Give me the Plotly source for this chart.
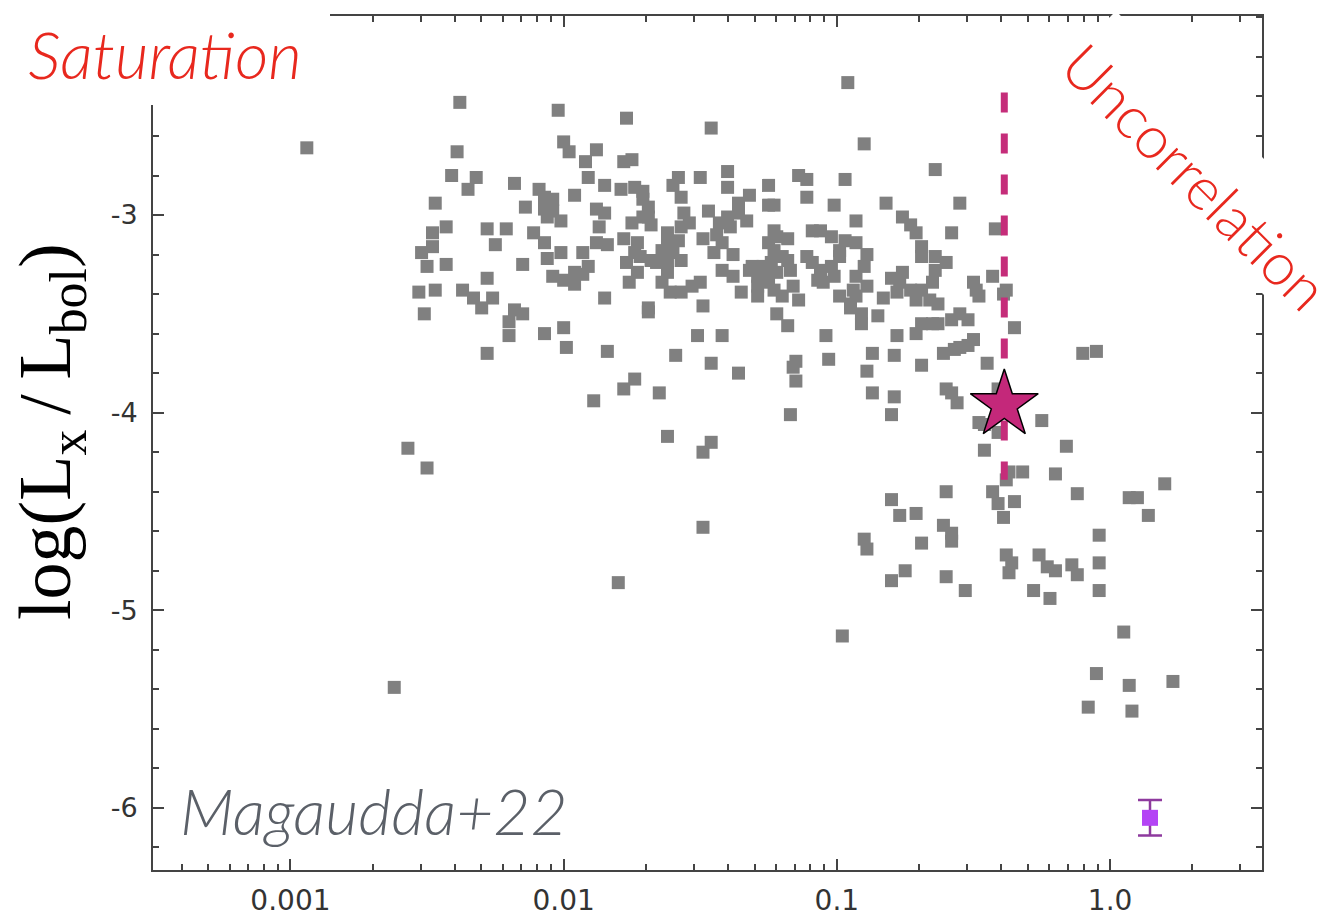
import plotly.graph_objects as go

# Rossby number (log10) and log(Lx/Lbol) for the stellar sample, in three groups
log_ro_sat_left = [
    -2.38, -2.94, -2.02, -2.39, -2.00, -1.98, -1.88, -1.92, -2.41, -2.32,
    -2.35, -2.18, -1.91, -1.96, -2.09, -2.07, -2.04, -2.07, -2.04, -2.01,
    -2.06, -2.14, -2.47, -1.88, -1.87, -2.43, -2.48, -2.28, -2.21, -2.25,
    -2.11, -2.07, -2.48, -2.52, -2.50, -2.43, -2.15, -2.06, -2.01, -1.93,
    -1.88, -1.91, -2.04, -2.00, -1.96, -1.96, -1.93, -2.53, -2.47, -2.28,
    -2.37, -2.33, -2.30, -2.26, -2.51, -2.18, -2.15, -2.20, -2.20, -2.07,
    -2.00, -1.99, -2.28, -1.89, -2.57, -2.50, -2.62,
]
log_lx_sat_left = [
    -2.43, -2.66, -2.47, -2.68, -2.63, -2.68, -2.67, -2.73, -2.80, -2.81,
    -2.87, -2.84, -2.81, -2.90, -2.87, -2.91, -2.92, -2.97, -2.98, -3.03,
    -3.01, -2.96, -2.94, -2.97, -3.06, -3.06, -3.09, -3.07, -3.07, -3.15,
    -3.09, -3.14, -3.16, -3.19, -3.26, -3.25, -3.25, -3.22, -3.19, -3.19,
    -3.14, -3.26, -3.31, -3.33, -3.29, -3.35, -3.30, -3.39, -3.38, -3.32,
    -3.38, -3.42, -3.47, -3.42, -3.50, -3.48, -3.50, -3.54, -3.61, -3.60,
    -3.57, -3.67, -3.70, -3.94, -4.18, -4.28, -5.39,
]

log_ro_sat_mid = [
    -0.96, -1.77, -1.46, -0.90, -1.78, -1.75, -0.64, -1.85, -1.50, -1.58,
    -1.60, -1.57, -1.40, -1.40, -1.25, -1.14, -1.11, -1.11, -0.97, -0.82,
    -1.01, -1.25, -1.23, -1.32, -1.79, -1.74, -1.71, -1.71, -1.69, -1.69,
    -1.71, -1.85, -1.47, -1.36, -1.36, -1.40, -1.33, -1.39, -1.43, -1.56,
    -1.54, -1.57, -0.93, -0.76, -0.73, -0.71, -0.69, -0.69, -1.75, -1.68,
    -1.84, -1.78, -1.73, -1.74, -1.62, -1.62, -1.58, -1.64, -1.60, -1.57,
    -1.62, -1.49, -1.44, -1.42, -1.45, -1.38, -1.77, -1.72, -1.68, -1.66,
    -1.73, -1.76, -1.62, -1.64, -1.61, -1.57, -1.53, -1.50, -1.42, -1.38,
    -1.85, -1.49, -1.69, -1.69, -1.35, -1.29, -1.29, -1.23, -1.22, -1.18,
    -1.25, -1.23, -1.20, -1.31, -1.27, -1.24, -1.25, -1.22, -1.18, -1.17,
    -1.25, -1.23, -1.20, -1.16, -1.14, -1.22, -1.18, -1.09, -1.06, -1.02,
    -1.11, -1.09, -1.06, -1.02, -0.99, -1.01, -1.07, -1.05, -0.97, -0.93,
    -0.99, -0.89, -0.90, -0.93, -0.89, -0.94, -0.99, -0.95, -0.91, -0.91,
    -0.83, -0.85, -0.80, -0.76, -0.77, -0.78, -0.73, -0.71, -0.69, -0.66,
    -0.63, -0.64, -0.64, -0.65, -0.69, -0.65, -0.63, -0.71, -0.78, -1.04,
    -1.51, -1.42, -1.84, -1.59, -1.46, -1.36, -1.15, -1.16, -1.15, -1.03,
    -0.87, -0.89, -0.79, -0.69, -0.87, -0.79, -1.74, -1.78, -1.65, -1.32,
    -1.29,
]
log_lx_sat_mid = [
    -2.33, -2.51, -2.56, -2.64, -2.73, -2.72, -2.77, -2.85, -2.81, -2.81,
    -2.85, -2.91, -2.78, -2.86, -2.85, -2.80, -2.82, -2.91, -2.82, -2.94,
    -2.95, -2.95, -2.95, -2.90, -2.87, -2.86, -2.88, -2.92, -2.96, -3.01,
    -3.01, -2.99, -2.98, -2.94, -2.99, -3.01, -3.03, -3.06, -3.04, -2.99,
    -3.04, -3.06, -3.03, -3.01, -3.05, -3.09, -3.16, -3.21, -3.04, -3.05,
    -3.15, -3.12, -3.14, -3.19, -3.09, -3.14, -3.13, -3.18, -3.19, -3.23,
    -3.24, -3.12, -3.10, -3.14, -3.19, -3.20, -3.24, -3.21, -3.23, -3.24,
    -3.29, -3.34, -3.29, -3.34, -3.39, -3.39, -3.36, -3.34, -3.28, -3.31,
    -3.42, -3.46, -3.47, -3.49, -3.39, -3.36, -3.41, -3.08, -3.11, -3.12,
    -3.14, -3.18, -3.21, -3.26, -3.26, -3.24, -3.29, -3.29, -3.23, -3.28,
    -3.34, -3.38, -3.41, -3.36, -3.43, -3.50, -3.56, -3.08, -3.08, -3.11,
    -3.21, -3.24, -3.28, -3.26, -3.21, -3.31, -3.33, -3.34, -3.13, -3.14,
    -3.18, -3.20, -3.26, -3.31, -3.36, -3.38, -3.41, -3.45, -3.50, -3.55,
    -3.42, -3.51, -3.32, -3.29, -3.34, -3.39, -3.38, -3.43, -3.38, -3.43,
    -3.45, -3.21, -3.28, -3.34, -3.55, -3.55, -3.55, -3.60, -3.61, -3.61,
    -3.61, -3.61, -3.69, -3.71, -3.75, -3.80, -3.74, -3.77, -3.84, -3.73,
    -3.70, -3.79, -3.71, -3.76, -3.90, -3.92, -3.83, -3.88, -3.90, -3.28,
    -3.31,
]

log_ro_unsat = [
    -0.60, -0.43, -0.38, -0.39, -0.93, -0.95, -0.50, -0.49, -0.48, -0.58,
    -0.55, -0.52, -0.35, -0.61, -0.57, -0.55, -0.52, -0.50, -0.45, -0.10,
    -0.05, -0.80, -0.60, -0.58, -0.56, -0.41, -0.48, -0.46, -0.41, -0.25,
    -0.46, -0.16, -0.37, -0.32, -0.38, -0.20, -0.60, -0.43, -0.41, -0.35,
    -0.39, -0.12, 0.07, 0.10, 0.20, 0.14, -0.80, -0.77, -0.71, -0.61,
    -0.58, -0.58, -0.90, -0.89, -0.69, -0.04, -0.38, -0.36, -0.37, -0.26,
    -0.23, -0.20, -0.14, -0.12, -0.04, -0.75, -0.80, -0.60, -0.53, -0.28,
    -0.22, -0.04, -0.55, -0.58, -0.42, -1.17, -1.62, -1.46, -1.49, -1.49,
    -1.80, -0.98, 0.05, -0.05, 0.07, 0.23, -0.08, 0.08,
]
log_lx_unsat = [
    -3.24, -3.31, -3.38, -3.40, -3.41, -3.47, -3.34, -3.38, -3.41, -3.53,
    -3.50, -3.53, -3.57, -3.70, -3.68, -3.67, -3.66, -3.63, -3.75, -3.70,
    -3.69, -4.01, -3.88, -3.90, -3.95, -3.88, -4.05, -4.06, -4.10, -4.04,
    -4.19, -4.17, -4.30, -4.30, -4.34, -4.31, -4.40, -4.40, -4.46, -4.45,
    -4.53, -4.41, -4.43, -4.43, -4.36, -4.52, -4.44, -4.52, -4.51, -4.57,
    -4.61, -4.65, -4.64, -4.69, -4.66, -4.62, -4.72, -4.76, -4.81, -4.72,
    -4.78, -4.80, -4.77, -4.82, -4.76, -4.80, -4.85, -4.83, -4.90, -4.90,
    -4.94, -4.90, -2.94, -3.09, -3.07, -4.01, -4.12, -4.15, -4.20, -4.58,
    -4.86, -5.13, -5.11, -5.32, -5.38, -5.36, -5.49, -5.51,
]

# Target star, saturation boundary and typical error bar
star_ro = [0.41]
star_lx = [-3.96]
boundary_ro = [0.41, 0.41]
boundary_lx = [-2.38, -4.34]
typ_err_ro = [1.40]
typ_err_lx = [-6.05]
typ_err_size = [0.09]

x_tick_vals = [0.001, 0.01, 0.1, 1.0]
x_tick_text = ["0.001", "0.01", "0.1", "1.0"]
y_tick_vals = [-6, -5, -4, -3]
y_tick_text = ["-6", "-5", "-4", "-3"]

log_ro_all = log_ro_sat_left + log_ro_sat_mid + log_ro_unsat
log_lx_all = log_lx_sat_left + log_lx_sat_mid + log_lx_unsat
ro_all = [10 ** v for v in log_ro_all]

x_minor = [k * 10 ** e for e in range(-4, 1) for k in range(2, 10)]

AXIS_COLOR = "#444444"
RED = "#e8281e"

fig = go.Figure()

fig.add_trace(go.Scatter(
    x=ro_all, y=log_lx_all, mode="markers",
    marker=dict(symbol="square", size=13, color="#808080", line=dict(width=0)),
    hoverinfo="skip", showlegend=False,
))

fig.add_trace(go.Scatter(
    x=boundary_ro, y=boundary_lx, mode="lines",
    line=dict(color="#c52d7a", width=7, dash="20px,21px"),
    hoverinfo="skip", showlegend=False,
))

fig.add_trace(go.Scatter(
    x=star_ro, y=star_lx, mode="markers",
    marker=dict(symbol="star", size=51, color="#c4287a",
                line=dict(color="black", width=1.5)),
    hoverinfo="skip", showlegend=False,
))

fig.add_trace(go.Scatter(
    x=typ_err_ro, y=typ_err_lx, mode="markers",
    marker=dict(symbol="square", size=16, color="#b444f5", line=dict(width=0)),
    error_y=dict(type="data", array=typ_err_size, symmetric=True,
                 color="#8e3a9e", thickness=2.5, width=12),
    hoverinfo="skip", showlegend=False,
))

W, H = 1326, 918
ML, MR, MT, MB = 153, 64, 16, 48
PW, PH = W - ML - MR, H - MT - MB


def px_x(px):
    return (px - ML) / PW


def px_y(py):
    return (H - MB - py) / PH


fig.update_layout(
    width=W, height=H,
    margin=dict(l=ML, r=MR, t=MT, b=MB, pad=0),
    paper_bgcolor="white", plot_bgcolor="white",
    showlegend=False,
    xaxis=dict(
        type="log", range=[-3.503, 0.556], automargin=False,
        showgrid=False, zeroline=False,
        showline=True, linecolor=AXIS_COLOR, linewidth=2, mirror="ticks",
        ticks="inside", ticklen=11, tickwidth=2, tickcolor=AXIS_COLOR,
        tickmode="array", tickvals=x_tick_vals, ticktext=x_tick_text,
        tickfont=dict(family="DejaVu Sans", size=28, color="#333333"),
        ticklabelstandoff=4,
        minor=dict(tickmode="array", tickvals=x_minor, ticks="inside",
                   ticklen=6, tickwidth=2, tickcolor=AXIS_COLOR, showgrid=False),
    ),
    yaxis=dict(
        range=[-6.314, -1.993], automargin=False,
        showgrid=False, zeroline=False,
        showline=True, linecolor=AXIS_COLOR, linewidth=2, mirror="ticks",
        ticks="inside", ticklen=11, tickwidth=2, tickcolor=AXIS_COLOR,
        tickmode="array", tickvals=y_tick_vals, ticktext=y_tick_text,
        tickfont=dict(family="DejaVu Sans", size=27, color="#333333"),
        ticklabelstandoff=8,
        minor=dict(tick0=-6, dtick=0.2, ticks="inside",
                   ticklen=6, tickwidth=2, tickcolor=AXIS_COLOR, showgrid=False),
    ),
)

annotations = [
    # y-axis title
    dict(text="log(L<sub>x</sub>\u2009/\u2009L<sub>bol</sub>)",
         xref="paper", yref="paper",
         x=px_x(50), y=px_y(432), textangle=-90, showarrow=False,
         xanchor="center", yanchor="middle",
         font=dict(family="Liberation Serif", size=74, color="black")),
    # regime labels
    dict(text="Saturation", xref="paper", yref="paper",
         x=px_x(165), y=px_y(54), showarrow=False,
         xanchor="center", yanchor="middle", width=330, height=102,
         bgcolor="white", borderpad=0, borderwidth=0,
         font=dict(family="Lato", size=65, color=RED, style="italic", weight=300)),
    dict(text="Uncorrelation", xref="paper", yref="paper",
         x=px_x(1234), y=px_y(197), textangle=45, showarrow=False,
         xanchor="center", yanchor="middle", width=430, height=96,
         align="left", valign="bottom",
         bgcolor="white", borderpad=0, borderwidth=0,
         font=dict(family="Lato", size=59, color=RED, weight=300)),
    dict(text="Magaudda+22", xref="paper", yref="paper",
         x=px_x(374), y=px_y(810), showarrow=False,
         xanchor="center", yanchor="middle",
         font=dict(family="Lato", size=64, color="#5b6068", style="italic", weight=300)),
]
fig.update_layout(annotations=annotations)

fig.write_html("out.html")
